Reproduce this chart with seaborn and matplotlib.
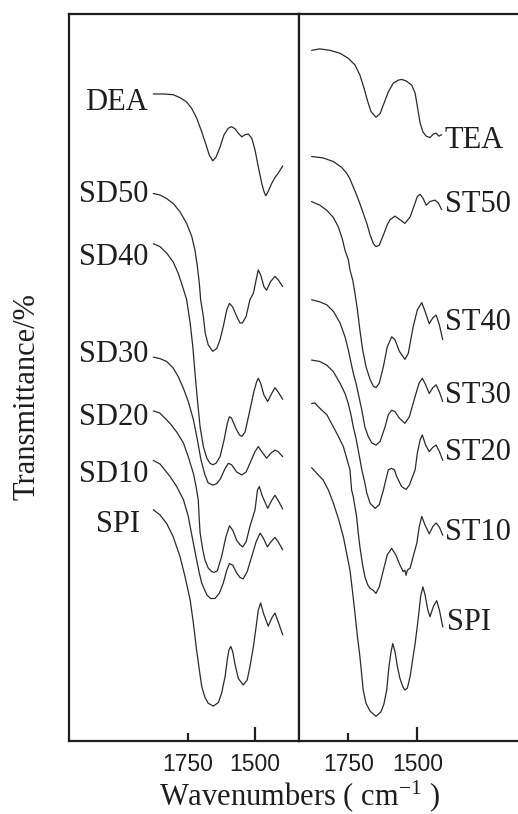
import numpy as np
import pandas as pd
import seaborn as sns
import matplotlib.pyplot as plt

# ---------------- data (wavenumber in cm-1, transmittance in arbitrary %) -------------
DEA_WN = [1878, 1841, 1804, 1779, 1754, 1735, 1717, 1698, 1682, 1670, 1657, 1645, 1630, 1615, 1599, 1587, 1574,
          1562, 1549, 1537, 1525, 1512, 1500, 1488, 1475, 1467, 1460, 1451, 1438, 1426, 1414, 1397]
DEA_T = [89.0, 89.0, 88.9, 88.5, 87.9, 87.0, 85.7, 83.8, 82.0, 80.6, 79.8, 80.3, 81.7, 83.4, 84.3, 84.5, 84.2,
         83.6, 83.1, 83.4, 83.5, 82.9, 81.3, 79.0, 76.7, 75.6, 75.0, 75.6, 76.7, 77.5, 78.1, 79.1]

SD50_WN = [1878, 1853, 1828, 1803, 1779, 1754, 1735, 1723, 1714, 1707, 1702, 1692, 1685, 1674, 1657, 1642, 1630,
           1618, 1605, 1595, 1583, 1568, 1556, 1547, 1533, 1519, 1506, 1496, 1488, 1479, 1467, 1457, 1442, 1426,
           1413, 1397]
SD50_T = [75.3, 75.1, 74.6, 73.9, 72.8, 71.2, 69.4, 67.5, 65.2, 63.0, 60.7, 58.4, 56.1, 54.5, 53.6, 54.0, 55.2,
          57.0, 59.3, 60.2, 59.7, 58.4, 57.5, 57.5, 58.4, 60.7, 61.6, 63.4, 64.8, 64.1, 62.5, 62.0, 63.2, 63.9,
          63.4, 62.5]

SD40_WN = [1878, 1853, 1828, 1804, 1785, 1769, 1754, 1741, 1731, 1723, 1714, 1704, 1692, 1679, 1667, 1657, 1645,
           1630, 1615, 1603, 1595, 1587, 1571, 1558, 1549, 1537, 1519, 1504, 1494, 1488, 1479, 1467, 1453, 1438,
           1426, 1414, 1397]
SD40_T = [68.4, 68.0, 67.1, 65.9, 64.3, 62.5, 60.7, 57.5, 54.2, 50.6, 46.9, 43.2, 40.5, 38.9, 38.2, 38.0, 38.2,
          39.1, 41.4, 43.7, 44.6, 44.4, 43.0, 42.1, 41.9, 42.5, 45.5, 48.1, 49.4, 49.9, 49.2, 47.6, 46.7, 47.8,
          48.6, 48.0, 47.0]

SD30_WN = [1878, 1853, 1828, 1804, 1785, 1766, 1748, 1729, 1714, 1701, 1686, 1674, 1657, 1642, 1628, 1611, 1599,
           1587, 1568, 1549, 1533, 1519, 1500, 1488, 1475, 1457, 1441, 1426, 1414, 1397]
SD30_T = [52.8, 52.6, 52.2, 51.3, 50.1, 48.5, 46.7, 44.2, 41.4, 38.7, 36.6, 35.5, 35.2, 35.4, 36.1, 37.5, 38.2,
          38.0, 37.0, 36.6, 37.0, 38.2, 39.8, 40.5, 39.8, 38.9, 39.6, 40.0, 39.8, 39.1]

SD20_WN = [1878, 1853, 1816, 1791, 1766, 1748, 1729, 1719, 1711, 1707, 1704, 1694, 1686, 1674, 1661, 1652, 1640,
           1624, 1608, 1595, 1583, 1568, 1556, 1546, 1533, 1519, 1500, 1491, 1484, 1474, 1453, 1438, 1426, 1414,
           1397]
SD20_T = [45.4, 45.1, 43.7, 42.5, 41.0, 39.1, 36.8, 35.0, 33.2, 30.4, 28.6, 26.3, 24.9, 23.8, 23.3, 23.2, 23.4,
          25.4, 28.1, 29.6, 29.0, 27.6, 27.0, 26.7, 27.4, 29.5, 31.8, 34.5, 35.0, 33.8, 32.0, 33.1, 33.8, 33.1,
          31.9]

SD10_WN = [1878, 1853, 1816, 1791, 1766, 1748, 1741, 1729, 1717, 1707, 1698, 1679, 1665, 1649, 1633, 1618, 1605,
           1595, 1583, 1568, 1556, 1544, 1529, 1512, 1496, 1481, 1469, 1454, 1441, 1426, 1414, 1397]
SD10_T = [38.6, 38.1, 36.4, 35.0, 33.2, 30.9, 29.5, 27.2, 24.9, 23.1, 21.7, 20.1, 19.6, 19.6, 20.3, 21.7, 23.5,
          24.4, 24.2, 23.1, 22.5, 22.3, 23.3, 25.4, 27.4, 28.6, 27.9, 26.7, 27.4, 28.0, 27.4, 26.3]

SPI_L_WN = [1878, 1853, 1828, 1804, 1779, 1760, 1741, 1729, 1717, 1707, 1698, 1686, 1674, 1655, 1636, 1624, 1611,
            1603, 1597, 1590, 1583, 1574, 1562, 1544, 1529, 1519, 1506, 1496, 1488, 1479, 1469, 1451, 1438, 1426,
            1414, 1397]
SPI_L_T = [31.8, 31.1, 29.9, 28.1, 25.4, 22.6, 19.4, 16.2, 12.5, 9.8, 7.5, 6.0, 5.2, 4.8, 5.3, 6.6, 8.9,
           11.2, 12.5, 13.0, 12.3, 10.5, 8.6, 7.7, 8.4, 10.2, 13.0, 15.7, 18.0, 19.0, 17.6, 15.8, 16.9, 17.6,
           16.4, 14.6]

TEA_WN = [1883, 1853, 1816, 1780, 1750, 1726, 1708, 1693, 1680, 1668, 1650, 1635, 1621, 1605, 1587, 1569, 1557,
          1541, 1520, 1508, 1500, 1490, 1480, 1468, 1454, 1442, 1432, 1422, 1412]
TEA_T = [95.0, 95.2, 95.0, 94.6, 93.9, 93.0, 91.6, 89.8, 88.0, 86.6, 85.8, 86.3, 87.7, 89.3, 90.5, 90.9, 91.0,
         90.8, 90.2, 89.1, 87.3, 85.0, 83.8, 83.2, 83.0, 83.5, 83.6, 83.2, 83.4]

ST50_WN = [1883, 1841, 1804, 1774, 1756, 1744, 1732, 1720, 1708, 1696, 1683, 1671, 1659, 1650, 1638, 1623, 1609,
           1599, 1581, 1563, 1545, 1526, 1508, 1500, 1490, 1480, 1468, 1454, 1436, 1424, 1412]
ST50_T = [80.4, 80.2, 79.7, 78.9, 78.1, 77.3, 76.2, 75.1, 73.9, 72.6, 71.2, 69.6, 68.4, 68.0, 68.2, 69.6, 71.0,
          71.7, 72.2, 71.7, 71.2, 72.1, 74.0, 74.9, 75.2, 74.7, 73.7, 74.2, 74.4, 74.0, 73.1]

ST40_WN = [1883, 1853, 1828, 1804, 1786, 1772, 1762, 1750, 1744, 1734, 1726, 1717, 1708, 1698, 1686, 1671, 1659,
           1650, 1638, 1623, 1609, 1593, 1581, 1565, 1545, 1533, 1515, 1500, 1484, 1472, 1457, 1444, 1432, 1420,
           1408]
ST40_T = [74.2, 73.7, 73.0, 72.0, 70.7, 69.1, 67.5, 66.2, 64.8, 63.4, 61.6, 59.3, 56.5, 53.8, 51.5, 49.7, 48.8,
          48.6, 49.2, 51.5, 54.2, 55.6, 55.2, 53.6, 52.5, 53.3, 57.0, 59.3, 60.3, 59.1, 57.4, 58.2, 58.6, 57.2,
          55.2]

ST30_WN = [1883, 1853, 1828, 1804, 1780, 1762, 1750, 1740, 1732, 1722, 1714, 1701, 1690, 1678, 1665, 1650, 1635,
           1617, 1605, 1593, 1581, 1565, 1545, 1529, 1508, 1494, 1482, 1470, 1457, 1444, 1432, 1420, 1408]
ST30_T = [60.7, 60.4, 60.0, 59.1, 57.5, 55.6, 53.8, 52.0, 50.6, 49.2, 47.8, 45.5, 43.2, 41.9, 41.0, 40.7, 41.2,
          43.2, 44.9, 45.5, 45.3, 44.4, 43.7, 44.6, 47.4, 49.2, 49.9, 49.0, 47.8, 48.6, 49.0, 48.0, 46.7]

ST20_WN = [1883, 1853, 1828, 1804, 1780, 1762, 1750, 1740, 1732, 1722, 1714, 1701, 1690, 1683, 1671, 1653, 1638,
           1623, 1613, 1605, 1593, 1583, 1575, 1557, 1541, 1529, 1508, 1500, 1490, 1482, 1470, 1457, 1444, 1432,
           1420, 1408]
ST20_T = [52.4, 52.2, 51.7, 50.8, 49.2, 47.8, 46.4, 44.8, 43.2, 41.6, 40.0, 37.3, 35.5, 34.1, 32.7, 32.0, 32.5,
          34.5, 36.1, 37.3, 37.5, 37.3, 36.4, 35.0, 34.6, 35.2, 37.3, 39.6, 41.4, 42.1, 40.7, 39.8, 40.4, 40.7,
          39.8, 38.6]

ST10_WN = [1883, 1871, 1859, 1846, 1828, 1804, 1786, 1768, 1756, 1744, 1738, 1732, 1726, 1720, 1714, 1708, 1699,
           1690, 1680, 1671, 1659, 1650, 1638, 1623, 1609, 1593, 1578, 1563, 1551, 1545, 1541, 1536, 1526, 1515,
           1502, 1493, 1484, 1472, 1457, 1444, 1432, 1420, 1408]
ST10_T = [46.4, 46.5, 46.0, 45.5, 44.9, 43.2, 41.9, 40.5, 38.9, 37.3, 34.5, 33.6, 32.2, 30.9, 28.6, 26.7, 24.4,
          22.6, 21.5, 21.0, 20.7, 20.3, 21.2, 23.5, 25.6, 26.5, 25.6, 24.2, 23.3, 23.5, 22.8, 23.5, 23.8, 25.4,
          27.2, 29.5, 30.9, 29.7, 28.5, 29.5, 30.0, 29.4, 28.3]

SPI_R_WN = [1883, 1859, 1841, 1822, 1804, 1786, 1768, 1756, 1744, 1734, 1726, 1717, 1708, 1696, 1686, 1671, 1650,
            1632, 1621, 1611, 1604, 1596, 1589, 1581, 1572, 1563, 1553, 1545, 1536, 1526, 1517, 1508, 1496, 1488,
            1480, 1472, 1462, 1454, 1442, 1430, 1420, 1408]
SPI_R_T = [37.6, 36.6, 35.9, 34.5, 32.7, 30.6, 28.1, 25.8, 23.5, 20.3, 17.6, 14.4, 11.6, 7.0, 5.2, 4.1, 3.4,
           4.0, 5.1, 7.0, 9.8, 12.1, 13.4, 12.3, 10.2, 8.6, 7.5, 7.0, 7.3, 8.9, 11.2, 13.4, 17.1, 19.9,
           21.2, 20.1, 18.0, 17.1, 18.5, 19.3, 18.0, 15.7]

LEFT_NAMES = ["DEA", "SD50", "SD40", "SD30", "SD20", "SD10", "SPI"]
LEFT_SERIES = [(DEA_WN, DEA_T), (SD50_WN, SD50_T), (SD40_WN, SD40_T), (SD30_WN, SD30_T),
               (SD20_WN, SD20_T), (SD10_WN, SD10_T), (SPI_L_WN, SPI_L_T)]
RIGHT_NAMES = ["TEA", "ST50", "ST40", "ST30", "ST20", "ST10", "SPI"]
RIGHT_SERIES = [(TEA_WN, TEA_T), (ST50_WN, ST50_T), (ST40_WN, ST40_T), (ST30_WN, ST30_T),
                (ST20_WN, ST20_T), (ST10_WN, ST10_T), (SPI_R_WN, SPI_R_T)]

# label anchor positions (wavenumber, transmittance at text baseline)
LEFT_LABEL_POS = [(1897, 86.8), (1897, 74.2), (1897, 65.5), (1897, 52.1), (1897, 43.5), (1897, 35.6), (1927, 28.7)]
RIGHT_LABEL_POS = [(1400, 81.6), (1400, 72.8), (1400, 56.5), (1400, 46.5), (1400, 38.7), (1400, 27.6), (1393, 15.3)]

TICK_LABELS = ["1750", "1500"]

# ---------------- figure ----------------
sns.set_theme(style="white")
plt.rcParams["font.family"] = ["Liberation Serif", "DejaVu Serif"]
plt.rcParams["mathtext.default"] = "regular"

W, H = 518, 814
fig = plt.figure(figsize=(W / 100, H / 100), dpi=100)
fig.patch.set_facecolor("white")

x0, xdiv, xend = 69.3, 299.3, 530
ytop, ybot = 14, 741
axL = fig.add_axes([x0 / W, 1 - ybot / H, (xdiv - x0) / W, (ybot - ytop) / H])
axR = fig.add_axes([xdiv / W, 1 - ybot / H, (xend - xdiv) / W, (ybot - ytop) / H])

line_color = "#2a2a2a"


def build_df(names, series):
    frames = []
    for name, (wn, t) in zip(names, series):
        frames.append(pd.DataFrame({"wn": wn, "T": t, "sample": name}))
    return pd.concat(frames, ignore_index=True)


dfL = build_df(LEFT_NAMES, LEFT_SERIES)
dfR = build_df(RIGHT_NAMES, RIGHT_SERIES)

for ax, df in [(axL, dfL), (axR, dfR)]:
    sns.lineplot(data=df, x="wn", y="T", units="sample", estimator=None, sort=False,
                 color=line_color, linewidth=0.9, ax=ax, legend=False)
    for ln in ax.get_lines():
        ln.set_solid_joinstyle("round")

axL.set_xlim(2190, 1335.5)
axR.set_xlim(1927.5, 1092)
for ax in (axL, axR):
    ax.set_ylim(0, 100)
    ax.set_yticks([])
    ax.set_xlabel("")
    ax.set_ylabel("")
    ax.set_facecolor("white")
    for sp in ax.spines.values():
        sp.set_color("#1e1e1e")
        sp.set_linewidth(1.6)
    # major tick at 1500 (long), minor tick at 1750 (short)
    ax.set_xticks([1500])
    ax.set_xticklabels([TICK_LABELS[1]])
    ax.set_xticks([1750], minor=True)
    ax.set_xticklabels([TICK_LABELS[0]], minor=True)
    ax.tick_params(axis="x", which="major", direction="in", length=10, width=1.6, color="#1e1e1e",
                   bottom=True, top=False, pad=8.3, labelsize=16.5)
    ax.tick_params(axis="x", which="minor", direction="in", length=5.8, width=1.6, color="#1e1e1e",
                   bottom=True, top=False, pad=8.3, labelsize=16.5)
    for lab in ax.get_xticklabels(which="both"):
        lab.set_fontfamily("Liberation Sans")
        lab.set_color("#1e1e1e")

for name, (wx, ty) in zip(LEFT_NAMES, LEFT_LABEL_POS):
    axL.text(wx, ty, name, ha="right", va="baseline", fontsize=22, color="#1e1e1e")
for name, (wx, ty) in zip(RIGHT_NAMES, RIGHT_LABEL_POS):
    axR.text(wx, ty, name, ha="left", va="baseline", fontsize=22, color="#1e1e1e", clip_on=False)

fig.text(27 / W, 1 - 397 / H, "Transmittance/%", rotation=90, ha="center", va="center",
         fontsize=22, color="#1e1e1e")
fig.text(299.5 / W, 1 - 805.5 / H, "Wavenumbers ( cm$^{-1}$ )", ha="center", va="baseline",
         fontsize=22, color="#1e1e1e")

fig.savefig("out.png", dpi=100, facecolor="white")
